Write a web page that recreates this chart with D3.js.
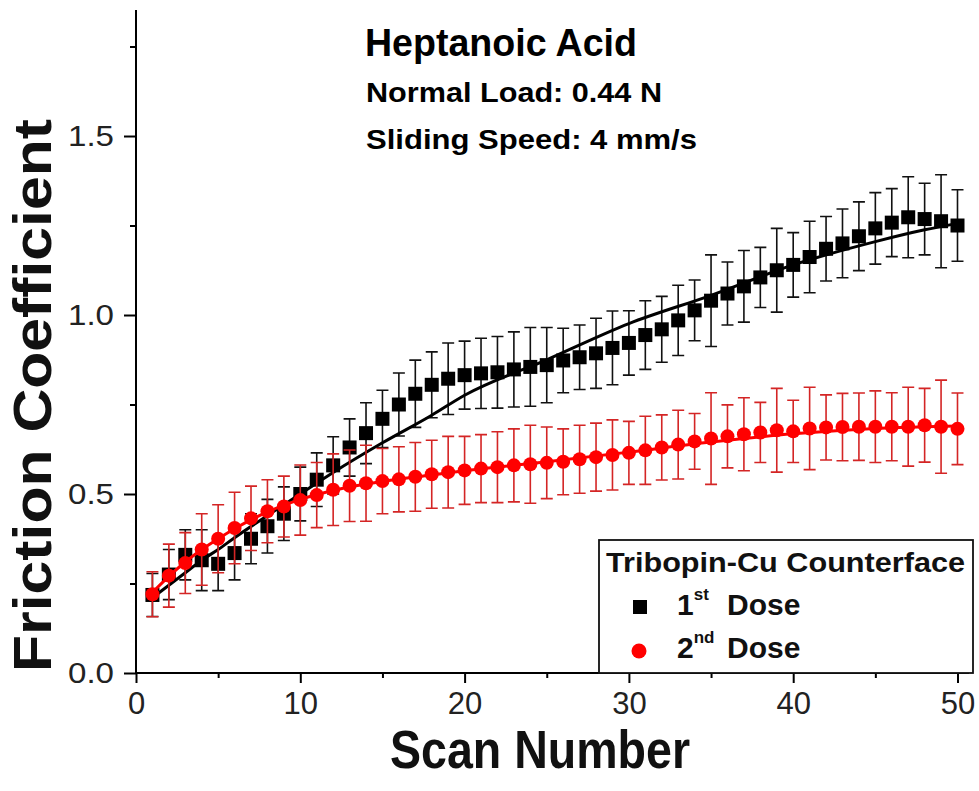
<!DOCTYPE html>
<html>
<head>
<meta charset="utf-8">
<script src="https://cdn.jsdelivr.net/npm/d3@7"></script>
<style>
  html, body { margin: 0; padding: 0; background: #fff; }
  svg { display: block; font-family: "Liberation Sans", Arial, sans-serif; }
</style>
</head>
<body>
<svg id="chart" width="979" height="791"></svg>
<script>
// ---------- data ----------
const scanNumbers = [1,2,3,4,5,6,7,8,9,10,11,12,13,14,15,16,17,18,19,20,21,22,23,24,25,26,27,28,29,30,31,32,33,34,35,36,37,38,39,40,41,42,43,44,45,46,47,48,49,50];

const dose1Values = [0.218,0.275,0.330,0.315,0.305,0.335,0.375,0.410,0.445,0.500,
  0.540,0.580,0.630,0.670,0.710,0.750,0.780,0.805,0.822,0.832,
  0.837,0.840,0.848,0.855,0.860,0.873,0.882,0.893,0.908,0.922,
  0.944,0.960,0.985,1.013,1.040,1.060,1.080,1.105,1.125,1.140,
  1.162,1.185,1.200,1.220,1.242,1.258,1.273,1.268,1.262,1.250];
const dose1Errors = [0.060,0.070,0.070,0.085,0.075,0.075,0.070,0.075,0.075,0.075,
  0.075,0.080,0.080,0.085,0.080,0.088,0.094,0.092,0.100,0.095,
  0.098,0.100,0.105,0.110,0.105,0.090,0.090,0.098,0.103,0.090,
  0.096,0.092,0.098,0.085,0.128,0.088,0.100,0.084,0.117,0.090,
  0.100,0.090,0.096,0.096,0.100,0.095,0.113,0.100,0.130,0.100];

const dose2Values = [0.220,0.272,0.307,0.345,0.375,0.405,0.432,0.452,0.465,0.483,
  0.497,0.512,0.523,0.530,0.536,0.541,0.548,0.555,0.561,0.566,
  0.571,0.575,0.580,0.583,0.587,0.590,0.597,0.603,0.609,0.615,
  0.622,0.630,0.638,0.647,0.655,0.661,0.667,0.672,0.678,0.675,
  0.683,0.686,0.687,0.688,0.688,0.688,0.688,0.692,0.688,0.682];
const dose2Errors = [0.063,0.088,0.085,0.100,0.095,0.100,0.090,0.088,0.085,0.098,
  0.091,0.100,0.100,0.106,0.091,0.091,0.096,0.095,0.100,0.095,
  0.095,0.099,0.102,0.109,0.100,0.092,0.095,0.095,0.098,0.088,
  0.095,0.091,0.096,0.078,0.128,0.088,0.102,0.084,0.117,0.087,
  0.115,0.091,0.094,0.094,0.100,0.095,0.110,0.103,0.130,0.100];

// fitted curves
const fitScans = [1,2,3,4,5,6,8,10,12,15,18,20,25,30,35,40,45,48,50];
const fit1Values = [0.210,0.245,0.280,0.315,0.345,0.378,0.440,0.500,0.560,0.643,0.720,0.776,0.875,0.976,1.055,1.140,1.205,1.238,1.256];
const fit2Values = [0.225,0.270,0.310,0.345,0.375,0.403,0.450,0.485,0.510,0.535,0.553,0.565,0.590,0.617,0.645,0.668,0.683,0.688,0.690];

const xMajorTicks = [0,10,20,30,40,50];
const xMinorTicks = [5,15,25,35,45];
const yMajorTicks = [0,0.5,1.0,1.5];
const yMinorTicks = [0.25,0.75,1.25,1.75];

const titleText = "Heptanoic Acid";
const subText1 = "Normal Load: 0.44 N";
const subText2 = "Sliding Speed: 4 mm/s";
const xTitle = "Scan Number";
const yTitle = "Friction Coefficient";
const legendTitle = "Tribopin-Cu Counterface";
const legendEntries = [
  {num: "1", sup: "st", label: "Dose", color: "#000", shape: "square"},
  {num: "2", sup: "nd", label: "Dose", color: "#ff0000", shape: "circle"}
];

// ---------- drawing ----------
const svg = d3.select("#chart");
const x = d3.scaleLinear().domain([0, 50.7]).range([136, 969]);
const y = d3.scaleLinear().domain([0, 1.852]).range([673, 10]);

const plot = svg.append("g");

// axes
const xAxis = d3.axisBottom(x).tickValues(xMajorTicks).tickSize(10).tickSizeOuter(0).tickFormat(d3.format("d")).tickPadding(9);
const gx = svg.append("g").attr("transform", "translate(0,673)").call(xAxis);
gx.select(".domain").attr("stroke-width", 2).attr("d", `M${x(0)-1},0H${x(50.7)}`);
gx.selectAll(".tick line").attr("stroke-width", 2);
gx.selectAll(".tick text").attr("font-size", 31).attr("fill", "#222").attr("dy", "0.7em");
svg.append("g").attr("transform", "translate(0,673)")
  .call(d3.axisBottom(x).tickValues(xMinorTicks).tickSize(5).tickFormat(""))
  .call(g => { g.select(".domain").remove(); g.selectAll(".tick line").attr("stroke-width", 2); });

const yAxis = d3.axisLeft(y).tickValues(yMajorTicks).tickSize(12).tickSizeOuter(0).tickFormat(d3.format(".1f")).tickPadding(10);
const gy = svg.append("g").attr("transform", "translate(136,0)").call(yAxis);
gy.select(".domain").attr("stroke-width", 2).attr("d", `M0,${y(0)+1}V${y(1.852)}`);
gy.selectAll(".tick line").attr("stroke-width", 2);
gy.selectAll(".tick text").attr("font-size", 29).attr("fill", "#222")
  .attr("textLength", 46).attr("lengthAdjust", "spacingAndGlyphs");
svg.append("g").attr("transform", "translate(136,0)")
  .call(d3.axisLeft(y).tickValues(yMinorTicks).tickSize(6).tickFormat(""))
  .call(g => { g.select(".domain").remove(); g.selectAll(".tick line").attr("stroke-width", 2); });

const capW = 6;
function drawErrors(vals, errs, color) {
  const g = plot.append("g").attr("stroke", color).attr("stroke-width", 1.6).attr("fill", "none");
  scanNumbers.forEach((s, i) => {
    const cx = x(s), y1 = y(vals[i] + errs[i]), y0 = y(vals[i] - errs[i]);
    g.append("path").attr("d", `M${cx},${y0}V${y1}M${cx-capW},${y1}H${cx+capW}M${cx-capW},${y0}H${cx+capW}`);
  });
}
const line = d3.line().x(d => x(d[0])).y(d => y(d[1])).curve(d3.curveMonotoneX);

// 1st dose
drawErrors(dose1Values, dose1Errors, "#111");
plot.append("g").selectAll("rect").data(scanNumbers).join("rect")
  .attr("x", (d) => x(d) - 7).attr("y", (d, i) => y(dose1Values[i]) - 7)
  .attr("width", 14).attr("height", 14).attr("fill", "#000");
plot.append("path").datum(fitScans.map((s, i) => [s, fit1Values[i]]))
  .attr("d", line).attr("fill", "none").attr("stroke", "#000").attr("stroke-width", 3);

// 2nd dose
drawErrors(dose2Values, dose2Errors, "#d42525");
plot.append("g").selectAll("circle").data(scanNumbers).join("circle")
  .attr("cx", (d) => x(d)).attr("cy", (d, i) => y(dose2Values[i]))
  .attr("r", 7).attr("fill", "#ff0000");
plot.append("path").datum(fitScans.map((s, i) => [s, fit2Values[i]]))
  .attr("d", line).attr("fill", "none").attr("stroke", "#ff0000").attr("stroke-width", 3);

// titles
svg.append("text").attr("x", 365).attr("y", 56).attr("font-size", 38).attr("font-weight", "bold")
  .attr("textLength", 272).attr("lengthAdjust", "spacingAndGlyphs").text(titleText);
svg.append("text").attr("x", 366).attr("y", 102).attr("font-size", 27).attr("font-weight", "bold")
  .attr("textLength", 296).attr("lengthAdjust", "spacingAndGlyphs").text(subText1);
svg.append("text").attr("x", 366).attr("y", 149).attr("font-size", 27).attr("font-weight", "bold")
  .attr("textLength", 331).attr("lengthAdjust", "spacingAndGlyphs").text(subText2);

svg.append("text").attr("x", 390).attr("y", 768).attr("font-size", 53).attr("font-weight", "bold")
  .attr("textLength", 300).attr("lengthAdjust", "spacingAndGlyphs").attr("fill", "#111").text(xTitle);
svg.append("text").attr("transform", "translate(51,672) rotate(-90)").attr("font-size", 54).attr("font-weight", "bold")
  .attr("textLength", 553).attr("lengthAdjust", "spacingAndGlyphs").attr("fill", "#111").text(yTitle);

// legend
const lg = svg.append("g");
lg.append("rect").attr("x", 599).attr("y", 540).attr("width", 374).attr("height", 133)
  .attr("fill", "#fff").attr("stroke", "#111").attr("stroke-width", 1.8);
lg.append("text").attr("x", 606).attr("y", 572).attr("font-size", 28).attr("font-weight", "bold")
  .attr("textLength", 359).attr("lengthAdjust", "spacingAndGlyphs").attr("fill", "#111").text(legendTitle);
const entryY = [615, 658];
legendEntries.forEach((e, i) => {
  const by = entryY[i];
  if (e.shape === "square") {
    lg.append("rect").attr("x", 633).attr("y", by - 15).attr("width", 14).attr("height", 14).attr("fill", e.color);
  } else {
    lg.append("circle").attr("cx", 639).attr("cy", by - 7).attr("r", 7.5).attr("fill", e.color);
  }
  const t = lg.append("text").attr("x", 677).attr("y", by).attr("font-size", 30).attr("font-weight", "bold").attr("fill", "#111");
  t.append("tspan").text(e.num);
  t.append("tspan").attr("font-size", 17).attr("dy", -15).text(e.sup);
  t.append("tspan").attr("x", 727).attr("dy", 15).text(e.label);
});
</script>
</body>
</html>
